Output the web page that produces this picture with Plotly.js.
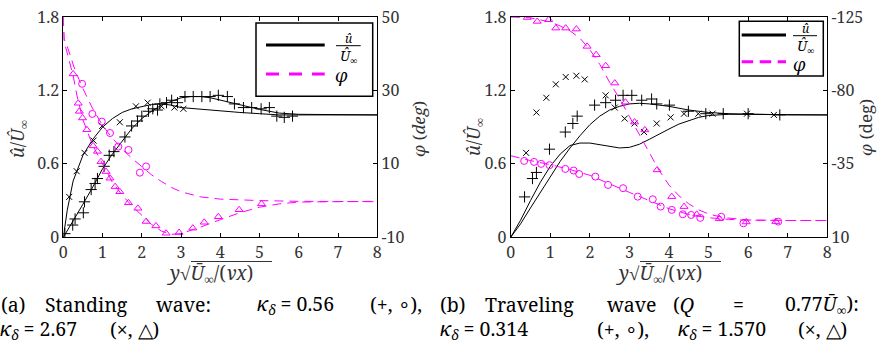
<!DOCTYPE html>
<html><head><meta charset="utf-8">
<script src="https://cdn.plot.ly/plotly-3.0.1.min.js"></script>
<style>html,body{margin:0;padding:0;background:#fff}#chart{width:878px;height:344px}</style>
</head><body><div id="chart"></div>
<script>
// ---------- (a) Standing wave ----------
const xTicks = [0,1,2,3,4,5,6,7,8];
const aUTicks = [0,0.6,1.2,1.8];
const aUTickText = ['0','0.6','1.2','1.8'];
const aPhiTicks = [-10,10,30,50];
const aPhiTickText = ['-10','10','30','50'];

// solid lines u/U (kappa=0.56 and kappa=2.67)
const aLine056X = [0,0.25,0.5,0.75,1,1.25,1.5,1.75,2,2.25,2.5,2.75,3,3.25,3.5,3.75,4,4.25,4.5,4.75,5,5.25,5.5,6,7,8];
const aLine056Y = [0,0.13,0.27,0.41,0.56,0.68,0.79,0.89,0.97,1.03,1.08,1.11,1.14,1.15,1.15,1.14,1.12,1.105,1.085,1.065,1.045,1.03,1.015,1.005,1.0,1.0];
const aLine267X = [0,0.1,0.25,0.5,0.75,1,1.25,1.5,1.75,2,2.25,2.5,2.75,3,3.5,4,4.5,5,5.5,6,8];
const aLine267Y = [0,0.22,0.46,0.67,0.8,0.9,0.97,1.02,1.05,1.07,1.085,1.09,1.08,1.06,1.045,1.03,1.02,1.01,1.0,1.0,1.0];
// dashed phase lines (deg)
const aPhi056X = [0,0.02,0.1,0.2,0.3,0.4,0.5,0.75,1,1.25,1.5,1.75,2,2.25,2.5,2.75,3,3.5,4,4.5,5,6,7,8];
const aPhi056Y = [50,44,42,38.5,35.5,33,30.5,25,20.5,17,14,11.5,9.3,7.0,5.2,3.6,2.4,1.0,0.4,0.1,0,-0.2,-0.3,-0.3];
const aPhi267X = [0,0.02,0.08,0.15,0.25,0.35,0.5,0.75,1,1.25,1.5,1.75,2,2.25,2.5,2.75,3,3.25,3.5,4,4.5,5,5.5,6,7,8];
const aPhi267Y = [50,43,41,38,34,28.5,22,15,10,5,1.5,-1.5,-4,-6.5,-8.3,-9.2,-9,-8.2,-7.2,-5.2,-3.3,-1.8,-0.9,-0.4,-0.2,-0.2];
// measured points
const aPlusX = [0.04,0.24,0.3,0.51,0.54,0.71,0.81,0.87,1.04,1.17,1.29,1.57,1.74,1.89,2.0,2.17,2.28,2.4,2.46,2.63,2.76,2.91,3.1,3.31,3.53,3.74,3.95,4.18,4.36,4.59,4.8,5.04,5.25,5.44,5.63,5.84];
const aPlusY = [0.03,0.1,0.15,0.2,0.29,0.39,0.44,0.48,0.58,0.67,0.70,0.82,0.91,0.95,0.99,1.03,1.05,1.04,1.09,1.10,1.12,1.10,1.15,1.15,1.15,1.15,1.16,1.15,1.09,1.06,1.06,1.05,1.06,0.99,0.98,0.99];
const aCrossX = [0.15,0.34,0.54,0.77,0.99,1.44,1.85,2.15,2.5,2.83,3.06];
const aCrossY = [0.33,0.54,0.69,0.79,0.91,0.94,1.07,1.10,1.07,1.06,1.05];
const aCircX = [0.48,0.74,0.98,1.19,1.40,1.66,1.95,2.11];
const aCircY = [31.8,23.6,21.5,18.4,14.7,13.8,7.6,9.3];
const aTriX = [0.25,0.38,0.41,0.49,0.60,0.76,0.87,0.96,1.09,1.19,1.32,1.44,1.66,1.9,2.11,2.36,2.62,2.95,3.3,3.59,3.95,4.48,5.05];
const aTriY = [34.5,26.5,24.3,22.5,19.3,14.9,13.4,10.6,7.9,6.1,3.8,2.4,-0.6,-2.1,-5.7,-6.9,-8.9,-8.7,-7.5,-5.9,-4.4,-2.5,-0.9];

// ---------- (b) Traveling wave ----------
const bPhiTicks = [10,-35,-80,-125];
const bPhiTickText = ['10','-35','-80','-125'];
const bLine0314X = [0,0.25,0.5,0.75,1,1.25,1.5,1.75,2,2.25,2.5,2.75,3,3.25,3.5,4,4.5,5,5.5,6,7,8];
const bLine0314Y = [0,0.11,0.24,0.37,0.5,0.62,0.73,0.83,0.92,0.99,1.04,1.07,1.09,1.095,1.09,1.07,1.04,1.02,1.01,1.005,1.0,1.0];
const bLine1570X = [0,0.25,0.5,0.75,1,1.25,1.5,1.75,2,2.25,2.5,2.75,3,3.25,3.5,3.75,4,4.25,4.5,4.75,5,5.5,6,7,8];
const bLine1570Y = [0,0.14,0.3,0.45,0.58,0.68,0.75,0.77,0.77,0.755,0.74,0.73,0.735,0.76,0.8,0.845,0.885,0.925,0.955,0.98,0.995,1.005,1.005,1.0,1.0];
const bPhi0314X = [0,0.5,1,1.5,2,2.5,3,3.5,4,4.5,5,5.5,6,7,8];
const bPhi0314Y = [-40,-37,-34.5,-31.5,-28,-23,-17.5,-12.5,-7.5,-4,-2,-1,-0.5,-0.3,-0.3];
const bPhi1570X = [0,0.5,1,1.25,1.5,1.75,2,2.25,2.5,2.75,3,3.25,3.5,3.75,4,4.25,4.5,4.75,5,5.25,5.5,6,7,8];
const bPhi1570Y = [-125,-124.5,-122,-119.5,-116.5,-112,-105,-96,-85,-75,-64,-53,-42,-31,-22,-15.5,-10.5,-6.8,-4.3,-2.8,-1.8,-0.6,-0.3,-0.3];
const bPlusX = [0.35,0.55,0.65,0.98,1.38,1.57,1.68,2.12,2.4,2.65,2.84,3.06,3.31,3.56,3.69,4.01,4.49,4.93,5.37,6.0,6.8];
const bPlusY = [0.33,0.48,0.53,0.72,0.86,0.93,0.99,1.08,1.10,1.12,1.16,1.16,1.12,1.13,1.09,1.08,1.03,1.01,1.01,1.01,1.0];
const bCrossX = [0.39,0.65,0.9,1.14,1.39,1.66,1.87,2.4,2.63,2.88,3.13,3.37,3.69,4.04,4.38,4.74,5.1,5.97,6.65];
const bCrossY = [0.69,1.02,1.14,1.25,1.31,1.32,1.29,1.16,1.06,0.97,0.93,0.86,0.93,0.98,1.01,1.01,1.01,1.01,1.0];
const bCircX = [0.34,0.59,0.77,0.98,1.38,1.59,1.73,2.14,2.46,2.84,3.21,3.59,3.79,4.07,4.35,4.56,4.79,5.32,5.88,6.76];
const bCircY = [-36.8,-36.2,-35,-34.2,-31.9,-30.9,-28.8,-27.2,-22.1,-20.1,-14.9,-13.3,-8.8,-6.8,-4.1,-3.7,-1.9,-2.6,1.4,0.4];
const bTriX = [0.42,0.67,0.96,1.14,1.39,1.66,1.93,2.16,2.4,2.63,2.9,3.13,3.39,3.7,4.07,4.38,4.7,5.27,5.95,6.7];
const bTriY = [-124.7,-122.3,-123.3,-118.2,-118.2,-117.6,-107,-101.9,-95.1,-84.5,-72.8,-60.6,-55.8,-31.3,-14.9,-8.8,-4.1,-1.4,0.6,0.4];

// ---------- styling ----------
const W = 878, H = 344;
const PX = v => v / W, PY = v => 1 - v / H;
const SERIF = 'Noto Serif';
const MAG = '#ff00ff';
const TXT = '#333';
const DASH = '9px,6px';

function solid(x, y, xa, ya) {
  return {x, y, xaxis: xa, yaxis: ya, mode: 'lines', line: {color: '#000', width: 1}, showlegend: false, hoverinfo: 'skip'};
}
function dashed(x, y, xa, ya) {
  return {x, y, xaxis: xa, yaxis: ya, mode: 'lines', line: {color: MAG, width: 1, dash: DASH}, showlegend: false, hoverinfo: 'skip'};
}
function pts(x, y, xa, ya, sym, color, size) {
  return {x, y, xaxis: xa, yaxis: ya, mode: 'markers', showlegend: false, hoverinfo: 'skip',
    marker: {symbol: sym, size, color, line: {color, width: 1}}};
}

const data = [
  solid(aLine056X, aLine056Y, 'x', 'y'),
  solid(aLine267X, aLine267Y, 'x', 'y'),
  pts(aPlusX, aPlusY, 'x', 'y', 'cross-thin-open', '#000', 8),
  pts(aCrossX, aCrossY, 'x', 'y', 'x-thin-open', '#000', 6),
  dashed(aPhi056X, aPhi056Y, 'x', 'y2'),
  dashed(aPhi267X, aPhi267Y, 'x', 'y2'),
  pts(aCircX, aCircY, 'x', 'y2', 'circle-open', MAG, 7),
  pts(aTriX, aTriY, 'x', 'y2', 'triangle-up-open', MAG, 7),

  solid(bLine0314X, bLine0314Y, 'x2', 'y3'),
  solid(bLine1570X, bLine1570Y, 'x2', 'y3'),
  pts(bPlusX, bPlusY, 'x2', 'y3', 'cross-thin-open', '#000', 8),
  pts(bCrossX, bCrossY, 'x2', 'y3', 'x-thin-open', '#000', 6),
  dashed(bPhi0314X, bPhi0314Y, 'x2', 'y4'),
  dashed(bPhi1570X, bPhi1570Y, 'x2', 'y4'),
  pts(bCircX, bCircY, 'x2', 'y4', 'circle-open', MAG, 7),
  pts(bTriX, bTriY, 'x2', 'y4', 'triangle-up-open', MAG, 7)
];

const tickfont = {family: SERIF, size: 16, color: TXT};
function xAxis(dom, anchor) {
  return {domain: dom, anchor, range: [0, 8], tickvals: xTicks, ticktext: xTicks.map(String),
    ticks: 'inside', ticklen: 4, tickcolor: '#000', tickwidth: 1, showline: true, linecolor: '#000', linewidth: 1,
    mirror: 'ticks', showgrid: false, zeroline: false, tickfont, fixedrange: true};
}
function yAxis(anchor, range, tv, tt, side, overlaying) {
  const o = {domain: [PY(237.3), PY(17)], anchor, range, tickvals: tv, ticktext: tt, side,
    ticks: 'inside', ticklen: 4, tickcolor: '#000', tickwidth: 1, showline: true, linecolor: '#000', linewidth: 1,
    showgrid: false, zeroline: false, tickfont, fixedrange: true};
  if (overlaying) o.overlaying = overlaying;
  return o;
}

const shapes = [];
const ann = [];
function txt(x, y, text, size, opts) {
  ann.push(Object.assign({xref: 'paper', yref: 'paper', x: PX(x), y: PY(y), text, showarrow: false,
    xanchor: 'center', yanchor: 'middle', borderpad: 0, borderwidth: 0,
    font: {family: SERIF, size: size, color: '#000'}}, opts || {}));
}
function seg(x0, x1, y, color, width, dash) {
  shapes.push({type: 'line', xref: 'paper', yref: 'paper', x0: PX(x0), x1: PX(x1), y0: PY(y), y1: PY(y),
    line: {color, width, dash: dash || 'solid'}});
}
function box(x0, x1, y0, y1) {
  shapes.push({type: 'rect', xref: 'paper', yref: 'paper', x0: PX(x0), x1: PX(x1), y0: PY(y1), y1: PY(y0),
    line: {color: '#000', width: 1.5}, fillcolor: '#fff'});
}

// legend (a)
box(256, 372.7, 23, 96.3);
seg(266, 324.7, 45, '#000', 3);
seg(266, 324.7, 74, MAG, 3, '13px,10px');
txt(348, 38.5, '<i>û</i>', 12);
seg(336, 360.7, 45.7, '#000', 1);
txt(348, 56, '<i>Û</i><sub>∞</sub>', 14);
txt(335, 75, '<i>φ</i>', 18, {xanchor: 'left'});
// legend (b)
box(739.3, 823.3, 21.3, 76);
seg(741.7, 786, 35, '#000', 3);
seg(741.7, 786, 61.7, MAG, 3, '11.5px,6.5px');
txt(805, 28.5, '<i>û</i>', 12);
seg(793, 817, 35.7, '#000', 1);
txt(805, 46.5, '<i>Û</i><sub>∞</sub>', 14);
txt(793, 64, '<i>φ</i>', 18, {xanchor: 'left'});

// axis titles
const tfont = s => ({family: SERIF, size: s, color: TXT});
const xTitle = '<i>y</i>√<i>Ū</i><sub>∞</sub>/(<i>νx</i>)';
txt(166, 274, xTitle, 19, {xanchor: 'left', font: tfont(19)});
seg(191, 272, 261.5, TXT, 1);
txt(615, 274, xTitle, 19, {xanchor: 'left', font: tfont(19)});
seg(640, 721, 261.5, TXT, 1);
txt(18, 139, '<i>û</i>/<i>Û</i><sub>∞</sub>', 18, {textangle: -90, font: tfont(18)});
txt(474, 137, '<i>û</i>/<i>Û</i><sub>∞</sub>', 18, {textangle: -90, font: tfont(18)});
txt(418, 129, '<i>φ</i> (<i>deg</i>)', 17, {textangle: -90, font: tfont(17)});
txt(865.5, 127.5, '<i>φ</i> (deg)', 17, {textangle: -90, font: tfont(17)});

// captions
const CAP = 19.5;
const L1 = 304, L2 = 329.5;
const kd = '<i>κ</i><sub><i>δ</i></sub>';
txt(1, L1, '(a)', CAP, {xanchor: 'left'});
txt(45, L1, 'Standing', CAP, {xanchor: 'left'});
txt(156, L1, 'wave:', CAP, {xanchor: 'left'});
txt(257, L1, kd + ' = 0.56', CAP, {xanchor: 'left'});
txt(370, L1, '(+, ∘),', CAP, {xanchor: 'left'});
txt(0, L2, kd + ' = 2.67', CAP, {xanchor: 'left'});
txt(110, L2, '(×, △)', CAP, {xanchor: 'left'});

txt(440, L1, '(b)', CAP, {xanchor: 'left'});
txt(485, L1, 'Traveling', CAP, {xanchor: 'left'});
txt(607, L1, 'wave', CAP, {xanchor: 'left'});
txt(673, L1, '(<i>Q</i>', CAP, {xanchor: 'left'});
txt(733, L1, '=', CAP, {xanchor: 'left'});
txt(785, L1, '0.77<i>Ū</i><sub>∞</sub>):', CAP, {xanchor: 'left'});
txt(440, L2, kd + ' = 0.314', CAP, {xanchor: 'left'});
txt(597, L2, '(+, ∘),', CAP, {xanchor: 'left'});
txt(678, L2, kd + ' = 1.570', CAP, {xanchor: 'left'});
txt(798, L2, '(×, △)', CAP, {xanchor: 'left'});

const layout = {
  width: W, height: H, autosize: false,
  margin: {l: 0, r: 0, t: 0, b: 0, pad: 0},
  paper_bgcolor: '#fff', plot_bgcolor: 'rgba(0,0,0,0)',
  showlegend: false,
  font: {family: SERIF, size: 16, color: TXT},
  xaxis: xAxis([PX(63.3), PX(377.3)], 'y'),
  yaxis: yAxis('x', [0, 1.8], aUTicks, aUTickText, 'left'),
  yaxis2: yAxis('x', [-10, 50], aPhiTicks, aPhiTickText, 'right', 'y'),
  xaxis2: xAxis([PX(510.7), PX(827.3)], 'y3'),
  yaxis3: yAxis('x2', [0, 1.8], aUTicks, aUTickText, 'left'),
  yaxis4: yAxis('x2', [10, -125], bPhiTicks, bPhiTickText, 'right', 'y3'),
  shapes, annotations: ann
};

Plotly.newPlot('chart', data, layout, {displayModeBar: false, staticPlot: true});
</script></body></html>
